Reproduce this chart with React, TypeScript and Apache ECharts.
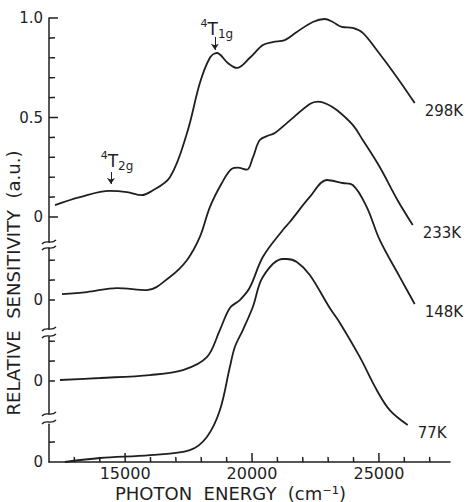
import React, { useEffect, useRef } from "react";
import * as echarts from "echarts";

// ---- data (photon energy cm^-1, relative sensitivity a.u.) ----
const X_MIN = 12000;
const X_MAX = 27800;
const xMajorTicks = [15000, 20000, 25000];
const xMinorTicks = [13000, 14000, 16000, 17000, 18000, 19000, 21000, 22000, 23000, 24000, 26000, 27000];

const s298K: [number, number][] = [
  [12236, 0.06], [13220, 0.1], [14402, 0.131], [15071, 0.125], [15661, 0.11], [15976, 0.125],
  [16764, 0.2], [17433, 0.42], [17945, 0.673], [18339, 0.8], [18614, 0.824], [19047, 0.774],
  [19402, 0.749], [19913, 0.8], [20425, 0.864], [20819, 0.879], [21291, 0.889], [21764, 0.93],
  [22394, 0.98], [22866, 0.995], [23181, 0.98], [23535, 0.955], [23968, 0.95], [24362, 0.925],
  [24913, 0.839], [25701, 0.704], [26409, 0.573],
];
const s233K: [number, number][] = [
  [12512, 0.03], [13496, 0.04], [14677, 0.06], [15858, 0.05], [16764, 0.116], [17433, 0.2],
  [17945, 0.317], [18339, 0.467], [18811, 0.588], [19205, 0.66], [19441, 0.665], [19795, 0.655],
  [20031, 0.715], [20307, 0.804], [20701, 0.829], [20898, 0.839], [21370, 0.889], [22276, 0.985],
  [22600, 0.997], [22945, 0.985], [23339, 0.955], [23968, 0.88], [24362, 0.804], [25031, 0.668],
  [25740, 0.5], [26331, 0.377],
];
const s148K: [number, number][] = [
  [12433, 0.005], [14008, 0.015], [15976, 0.03], [17276, 0.055], [18220, 0.12], [18732, 0.256],
  [19126, 0.367], [19520, 0.407], [19913, 0.47], [20425, 0.623], [21213, 0.759], [21488, 0.799],
  [22276, 0.925], [22945, 1.01], [23575, 0.995], [23968, 0.985], [24520, 0.874], [25031, 0.709],
  [25819, 0.523], [26409, 0.387],
];
const s77K: [number, number][] = [
  [12630, 0], [14008, 0.02], [15976, 0.035], [17551, 0.06], [18220, 0.126], [18732, 0.26],
  [19126, 0.477], [19323, 0.578], [19638, 0.663], [20031, 0.779], [20425, 0.93], [21213, 1.02],
  [21370, 1.02], [21764, 1.005], [22276, 0.94], [23063, 0.774], [23457, 0.7], [24244, 0.528],
  [24913, 0.362], [25425, 0.261], [26134, 0.186],
];

const seriesNames = ["298K", "233K", "148K", "77K"];
const seriesData = [s298K, s233K, s148K, s77K];

// y ranges of each broken-axis panel
const panelMin = [-0.125, -0.145, -0.165, 0];
const panelMax = [1.0, 0.26, 0.22, 0.19];
const panelMinorTicks = [
  [0.1, 0.2, 0.3, 0.4, 0.6, 0.7, 0.8, 0.9],
  [0, 0.1, 0.2],
  [0, 0.1, 0.2],
  [0.1],
];
const panelMajorTicks = [[0, 0.5, 1.0], [], [], []];
const panelLabels = [[0, 0.5, 1.0], [0], [0], [0]];

// annotations: [energy, arrowTop, arrowTip]
const annT2g = [14441, 0.226, 0.166];
const annT1g = [18535, 0.905, 0.84];

// ---- layout ----
const W = 468;
const H = 502;
const LEFT = 49;
const RIGHT = 18;
const PLOT_W = W - LEFT - RIGHT;
const SCALE = 199; // px per unit
const zeroPx = [217, 300, 381, 462];
const INK = "#1f1f1f";
const FONT = "DejaVu Sans";

export default function App() {
  const ref = useRef<HTMLDivElement>(null);
  useEffect(() => {
    document.body.style.margin = "0";
    if (!ref.current) return;
    const chart = echarts.init(ref.current, undefined, { renderer: "svg" });

    const grids = seriesNames.map((_, i) => ({
      left: LEFT,
      right: RIGHT,
      top: zeroPx[i] - panelMax[i] * SCALE,
      height: (panelMax[i] - panelMin[i]) * SCALE,
      containLabel: false,
      outerBoundsMode: "none",
    }));

    const xAxes: any[] = seriesNames.map((_, i) => ({
      type: "value",
      gridIndex: i,
      min: X_MIN,
      max: X_MAX,
      show: i === 3,
      splitLine: { show: false },
      axisLine: { show: true, onZero: false, lineStyle: { color: INK, width: 1.5 } },
      axisTick: { show: false },
      axisLabel: {
        show: true,
        customValues: xMajorTicks,
        formatter: (v: number) => String(v),
        margin: 3,
        fontSize: 16,
        fontFamily: FONT,
        color: INK,
      },
      name: i === 3 ? "PHOTON  ENERGY  (cm\u207B\u00B9)" : "",
      nameLocation: "middle",
      nameGap: 22,
      nameTextStyle: { fontSize: 18, lineHeight: 18, fontFamily: FONT, color: INK, padding: [0, 38, 0, 0] },
    }));

    const yAxes: any[] = seriesNames.map((_, i) => ({
      type: "value",
      gridIndex: i,
      min: panelMin[i],
      max: panelMax[i],
      splitLine: { show: false },
      axisLine: { show: true, onZero: false, lineStyle: { color: INK, width: 1.5 } },
      axisTick: { show: false },
      axisLabel: {
        show: true,
        customValues: panelLabels[i],
        formatter: (v: number) => (Math.abs(v) < 1e-9 ? "0" : v.toFixed(1)),
        margin: 6,
        fontSize: 15,
        fontFamily: FONT,
        color: INK,
      },
    }));

    const rich = {
      s: { fontSize: 11, fontFamily: FONT, color: INK, verticalAlign: "top", lineHeight: 12 },
      t: { fontSize: 17, fontFamily: FONT, color: INK, verticalAlign: "middle", lineHeight: 22 },
      b: { fontSize: 12, fontFamily: FONT, color: INK, verticalAlign: "bottom", lineHeight: 12 },
    };

    const series: any[] = seriesNames.map((name, i) => ({
      name,
      type: "line",
      xAxisIndex: i,
      yAxisIndex: i,
      data: seriesData[i],
      smooth: 0.35,
      showSymbol: false,
      clip: false,
      lineStyle: { color: INK, width: 1.8 },
      endLabel: {
        show: true,
        formatter: name,
        offset: [2, 8],
        fontSize: 15,
        fontFamily: FONT,
        color: INK,
      },
      silent: true,
      z: 3,
    }));

    series[0].markLine = {
      silent: true,
      symbol: ["none", "arrow"],
      symbolSize: 6,
      lineStyle: { color: INK, width: 1, type: "solid" },
      label: { show: false },
      data: [
        [{ coord: [annT2g[0], annT2g[1]] }, { coord: [annT2g[0], annT2g[2]] }],
        [{ coord: [annT1g[0], annT1g[1]] }, { coord: [annT1g[0], annT1g[2]] }],
      ],
    };
    series[0].markPoint = {
      silent: true,
      symbol: "circle",
      symbolSize: 1,
      itemStyle: { color: "rgba(0,0,0,0)" },
      data: [
        {
          coord: [annT2g[0], annT2g[1]],
          label: { show: true, position: "top", distance: 0, offset: [6, 0], formatter: "{s|4}{t|T}{b|2g}", rich },
        },
        {
          coord: [annT1g[0], annT1g[1]],
          label: { show: true, position: "top", distance: 0, offset: [2, 4], formatter: "{s|4}{t|T}{b|1g}", rich },
        },
      ],
    };

    // tick marks drawn as short strokes, same mapping as the grids
    const yPx = (i: number, v: number) => zeroPx[i] - v * SCALE;
    const xPx = (v: number) => LEFT + ((v - X_MIN) / (X_MAX - X_MIN)) * PLOT_W;
    const stroke = (x1: number, y1: number, x2: number, y2: number) => ({
      type: "bezierCurve",
      shape: {
        x1,
        y1,
        x2,
        y2,
        cpx1: x1 + (x2 - x1) / 3 + 0.3,
        cpy1: y1 + (y2 - y1) / 3 + 0.3,
        cpx2: x1 + ((x2 - x1) * 2) / 3 - 0.3,
        cpy2: y1 + ((y2 - y1) * 2) / 3 - 0.3,
      },
      style: { stroke: INK, lineWidth: 1.5, fill: "none" },
      silent: true,
      z: 60,
    });
    const tickEls: any[] = [];
    seriesNames.forEach((_, i) => {
      panelMinorTicks[i].forEach((v) => tickEls.push(stroke(LEFT, yPx(i, v), LEFT + 6, yPx(i, v))));
      panelMajorTicks[i].forEach((v) => tickEls.push(stroke(LEFT, yPx(i, v), LEFT + 9, yPx(i, v))));
    });
    xMinorTicks.forEach((v) => tickEls.push(stroke(xPx(v), zeroPx[3], xPx(v), zeroPx[3] - 5)));
    xMajorTicks.forEach((v) => tickEls.push(stroke(xPx(v), zeroPx[3], xPx(v), zeroPx[3] - 9)));

    const breakYs = [242, 248, 329, 336, 414, 422];
    const breaks = breakYs.map((y) => ({
      type: "bezierCurve",
      shape: { x1: 42, y1: y + 2, cpx1: 46, cpy1: y - 3, cpx2: 51, cpy2: y + 3, x2: 56, y2: y - 2 },
      style: { stroke: INK, lineWidth: 1.4, fill: "none" },
      silent: true,
      z: 60,
    }));

    chart.setOption({
      animation: false,
      backgroundColor: "#ffffff",
      grid: grids,
      xAxis: xAxes,
      yAxis: yAxes,
      series,
      graphic: [
        ...breaks,
        {
          type: "text",
          x: 13,
          y: 283,
          rotation: Math.PI / 2,
          style: {
            text: "RELATIVE  SENSITIVITY  (a.u.)",
            fontSize: 18,
            fontFamily: FONT,
            fill: INK,
            align: "center",
            verticalAlign: "middle",
          },
          silent: true,
        },
        ...tickEls,
      ],
    });
    return () => chart.dispose();
  }, []);
  return <div ref={ref} style={{ width: W, height: H }} />;
}
